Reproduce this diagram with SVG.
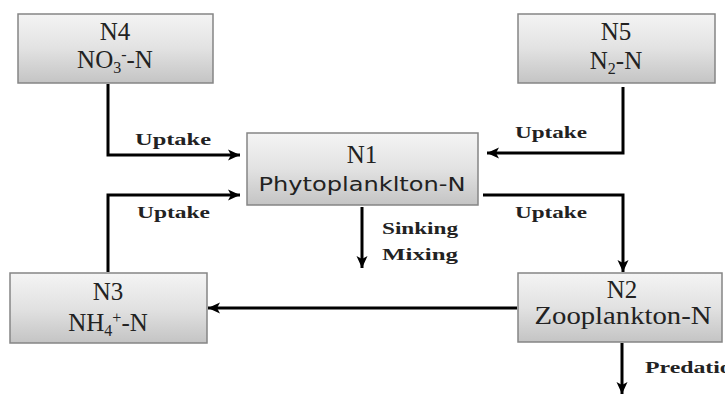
<svg xmlns="http://www.w3.org/2000/svg" width="725" height="396" viewBox="0 0 725 396">
<defs>
<linearGradient id="g" x1="0" y1="0" x2="0" y2="1">
<stop offset="0" stop-color="#f4f4f4"/>
<stop offset="0.5" stop-color="#e2e2e2"/>
<stop offset="1" stop-color="#c4c4c4"/>
</linearGradient>
<marker id="ah" markerUnits="userSpaceOnUse" markerWidth="14" markerHeight="14" viewBox="0 0 14 14" refX="13" refY="7" orient="auto">
<path d="M1,1.5 L13,7 L1,12.5 L4,7 Z" fill="#000"/>
</marker>
</defs>
<style>
.box{fill:url(#g);stroke:#858585;stroke-width:1.5}
.nt{font-family:"Liberation Serif","Times New Roman",serif;font-size:25px;fill:#222;text-anchor:middle}
.st{font-family:"DejaVu Sans",Verdana,sans-serif;font-size:20px;fill:#222;text-anchor:middle}
.lb{font-family:"Liberation Serif","Times New Roman",serif;font-size:17px;font-weight:bold;fill:#222}
.ca{fill:none;stroke:#000;stroke-width:3;marker-end:url(#ah)}
</style>
<g id="connectors">
<polyline class="ca" points="108,84 108,155 240,155"/>
<polyline class="ca" points="623,87 623,153 487,153"/>
<polyline class="ca" points="108,272 108,195 240,195"/>
<polyline class="ca" points="483,195 623,195 623,272"/>
<line class="ca" x1="517" y1="308" x2="208" y2="308"/>
<line class="ca" x1="362" y1="207" x2="362" y2="268"/>
<line class="ca" x1="622" y1="343" x2="622" y2="394"/>
<text class="lb" x="135" y="145" textLength="76" lengthAdjust="spacingAndGlyphs">Uptake</text>
<text class="lb" x="515" y="138" textLength="72" lengthAdjust="spacingAndGlyphs">Uptake</text>
<text class="lb" x="137" y="218" textLength="73" lengthAdjust="spacingAndGlyphs">Uptake</text>
<text class="lb" x="515" y="218" textLength="72" lengthAdjust="spacingAndGlyphs">Uptake</text>
<text class="lb" x="382" y="234" textLength="76" lengthAdjust="spacingAndGlyphs">Sinking</text>
<text class="lb" x="382" y="260" textLength="76" lengthAdjust="spacingAndGlyphs">Mixing</text>
<text class="lb" x="645" y="373" textLength="100" lengthAdjust="spacingAndGlyphs">Predation</text>
</g>
<g id="N4">
<rect class="box" x="18" y="14" width="195" height="69"/>
<text class="nt" x="115" y="40">N4</text>
<text class="nt" x="115" y="68">NO<tspan font-size="16" dy="5">3</tspan><tspan font-size="16" dy="-13">-</tspan><tspan dy="8">-N</tspan></text>
</g>
<g id="N5">
<rect class="box" x="518" y="14" width="197" height="69"/>
<text class="nt" x="616" y="40">N5</text>
<text class="nt" x="616" y="69">N<tspan font-size="16" dy="5">2</tspan><tspan dy="-5">-N</tspan></text>
</g>
<g id="N1">
<rect class="box" x="247" y="133" width="231" height="72"/>
<text class="nt" x="362" y="163">N1</text>
<text class="st" x="362" y="191" textLength="207" lengthAdjust="spacingAndGlyphs">Phytoplanklton-N</text>
</g>
<g id="N3">
<rect class="box" x="10" y="273" width="197" height="70"/>
<text class="nt" x="108" y="300">N3</text>
<text class="nt" x="108" y="331">NH<tspan font-size="16" dy="5">4</tspan><tspan font-size="16" dy="-13">+</tspan><tspan dy="8">-N</tspan></text>
</g>
<g id="N2">
<rect class="box" x="518" y="273" width="204" height="69"/>
<text class="nt" x="622" y="298">N2</text>
<text class="nt" x="623" y="324" textLength="177" lengthAdjust="spacingAndGlyphs">Zooplankton-N</text>
</g>
</svg>
